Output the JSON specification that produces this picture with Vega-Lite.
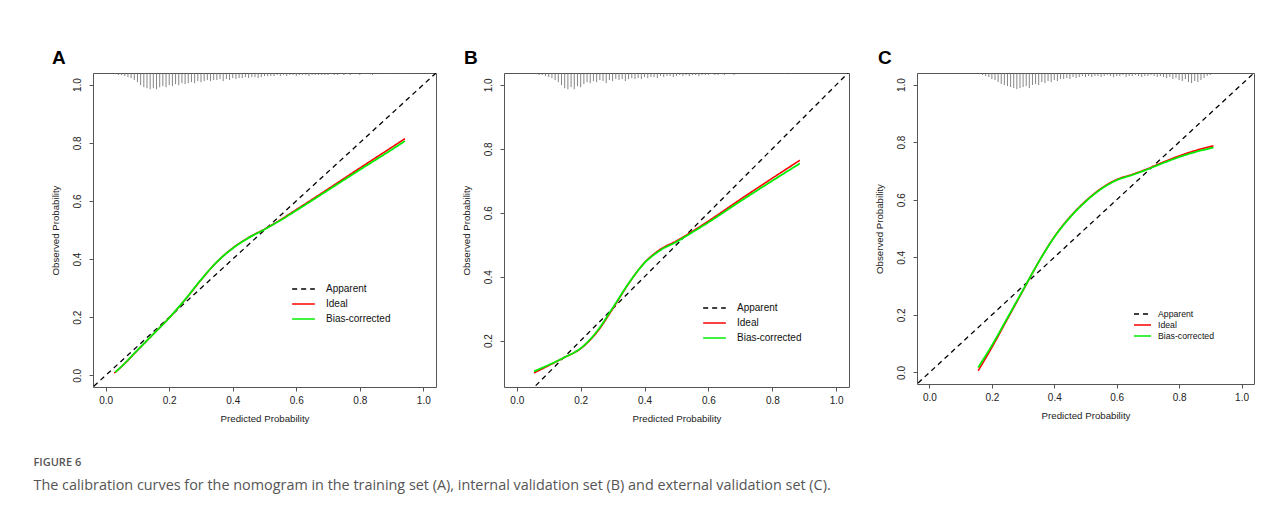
{
  "$schema": "https://vega.github.io/schema/vega-lite/v6.json",
  "background": "white",
  "padding": {"left": 33, "top": 48, "right": 20, "bottom": 10},
  "config": {
    "font": "Liberation Sans",
    "view": {"stroke": "#555", "strokeWidth": 1},
    "axis": {"grid": false, "domain": false, "tickColor": "#555", "tickSize": 4, "labelColor": "#222", "labelFontSize": 10, "titleFontSize": 9.7, "titleFontWeight": "normal", "titleColor": "#222", "labelFont": "Liberation Sans", "titleFont": "Liberation Sans"},
    "axisX": {"labelPadding": 4, "titlePadding": 8},
    "axisY": {"labelAngle": -90, "labelAlign": "center", "labelBaseline": "bottom", "labelPadding": 7, "titlePadding": 12}
  },
  "datasets": {
    "diag": [{"s": "Apparent", "x": -0.1, "y": -0.1}, {"s": "Apparent", "x": 1.1, "y": 1.1}],
    "cA": [
      {"s": "Ideal", "x": 0.027, "y": 0.008}, {"s": "Ideal", "x": 0.05, "y": 0.03}, {"s": "Ideal", "x": 0.1, "y": 0.086}, {"s": "Ideal", "x": 0.15, "y": 0.142}, {"s": "Ideal", "x": 0.2, "y": 0.198}, {"s": "Ideal", "x": 0.25, "y": 0.26}, {"s": "Ideal", "x": 0.3, "y": 0.328}, {"s": "Ideal", "x": 0.35, "y": 0.39}, {"s": "Ideal", "x": 0.4, "y": 0.438}, {"s": "Ideal", "x": 0.45, "y": 0.474}, {"s": "Ideal", "x": 0.5, "y": 0.503}, {"s": "Ideal", "x": 0.55, "y": 0.535}, {"s": "Ideal", "x": 0.6, "y": 0.57}, {"s": "Ideal", "x": 0.7, "y": 0.641}, {"s": "Ideal", "x": 0.8, "y": 0.713}, {"s": "Ideal", "x": 0.9, "y": 0.784}, {"s": "Ideal", "x": 0.942, "y": 0.814},
      {"s": "Bias-corrected", "x": 0.03, "y": 0.011}, {"s": "Bias-corrected", "x": 0.05, "y": 0.031}, {"s": "Bias-corrected", "x": 0.1, "y": 0.087}, {"s": "Bias-corrected", "x": 0.15, "y": 0.142}, {"s": "Bias-corrected", "x": 0.2, "y": 0.198}, {"s": "Bias-corrected", "x": 0.25, "y": 0.261}, {"s": "Bias-corrected", "x": 0.3, "y": 0.329}, {"s": "Bias-corrected", "x": 0.35, "y": 0.39}, {"s": "Bias-corrected", "x": 0.4, "y": 0.437}, {"s": "Bias-corrected", "x": 0.45, "y": 0.473}, {"s": "Bias-corrected", "x": 0.5, "y": 0.502}, {"s": "Bias-corrected", "x": 0.55, "y": 0.533}, {"s": "Bias-corrected", "x": 0.6, "y": 0.567}, {"s": "Bias-corrected", "x": 0.7, "y": 0.637}, {"s": "Bias-corrected", "x": 0.8, "y": 0.707}, {"s": "Bias-corrected", "x": 0.9, "y": 0.776}, {"s": "Bias-corrected", "x": 0.942, "y": 0.806}
    ],
    "cB": [
      {"s": "Ideal", "x": 0.054, "y": 0.099}, {"s": "Ideal", "x": 0.1, "y": 0.122}, {"s": "Ideal", "x": 0.15, "y": 0.148}, {"s": "Ideal", "x": 0.2, "y": 0.175}, {"s": "Ideal", "x": 0.25, "y": 0.225}, {"s": "Ideal", "x": 0.3, "y": 0.299}, {"s": "Ideal", "x": 0.35, "y": 0.378}, {"s": "Ideal", "x": 0.4, "y": 0.444}, {"s": "Ideal", "x": 0.45, "y": 0.486}, {"s": "Ideal", "x": 0.5, "y": 0.512}, {"s": "Ideal", "x": 0.55, "y": 0.542}, {"s": "Ideal", "x": 0.6, "y": 0.574}, {"s": "Ideal", "x": 0.7, "y": 0.642}, {"s": "Ideal", "x": 0.8, "y": 0.708}, {"s": "Ideal", "x": 0.886, "y": 0.764},
      {"s": "Bias-corrected", "x": 0.054, "y": 0.104}, {"s": "Bias-corrected", "x": 0.1, "y": 0.124}, {"s": "Bias-corrected", "x": 0.15, "y": 0.148}, {"s": "Bias-corrected", "x": 0.2, "y": 0.176}, {"s": "Bias-corrected", "x": 0.25, "y": 0.228}, {"s": "Bias-corrected", "x": 0.3, "y": 0.302}, {"s": "Bias-corrected", "x": 0.35, "y": 0.379}, {"s": "Bias-corrected", "x": 0.4, "y": 0.443}, {"s": "Bias-corrected", "x": 0.45, "y": 0.483}, {"s": "Bias-corrected", "x": 0.5, "y": 0.509}, {"s": "Bias-corrected", "x": 0.55, "y": 0.539}, {"s": "Bias-corrected", "x": 0.6, "y": 0.57}, {"s": "Bias-corrected", "x": 0.7, "y": 0.636}, {"s": "Bias-corrected", "x": 0.8, "y": 0.7}, {"s": "Bias-corrected", "x": 0.886, "y": 0.754}
    ],
    "cC": [
      {"s": "Ideal", "x": 0.156, "y": 0.006}, {"s": "Ideal", "x": 0.2, "y": 0.087}, {"s": "Ideal", "x": 0.25, "y": 0.186}, {"s": "Ideal", "x": 0.3, "y": 0.285}, {"s": "Ideal", "x": 0.35, "y": 0.384}, {"s": "Ideal", "x": 0.4, "y": 0.471}, {"s": "Ideal", "x": 0.45, "y": 0.54}, {"s": "Ideal", "x": 0.5, "y": 0.595}, {"s": "Ideal", "x": 0.55, "y": 0.639}, {"s": "Ideal", "x": 0.6, "y": 0.67}, {"s": "Ideal", "x": 0.65, "y": 0.688}, {"s": "Ideal", "x": 0.7, "y": 0.708}, {"s": "Ideal", "x": 0.75, "y": 0.731}, {"s": "Ideal", "x": 0.8, "y": 0.752}, {"s": "Ideal", "x": 0.85, "y": 0.77}, {"s": "Ideal", "x": 0.91, "y": 0.787},
      {"s": "Bias-corrected", "x": 0.156, "y": 0.017}, {"s": "Bias-corrected", "x": 0.2, "y": 0.094}, {"s": "Bias-corrected", "x": 0.25, "y": 0.19}, {"s": "Bias-corrected", "x": 0.3, "y": 0.287}, {"s": "Bias-corrected", "x": 0.35, "y": 0.384}, {"s": "Bias-corrected", "x": 0.4, "y": 0.47}, {"s": "Bias-corrected", "x": 0.45, "y": 0.538}, {"s": "Bias-corrected", "x": 0.5, "y": 0.593}, {"s": "Bias-corrected", "x": 0.55, "y": 0.637}, {"s": "Bias-corrected", "x": 0.6, "y": 0.668}, {"s": "Bias-corrected", "x": 0.65, "y": 0.686}, {"s": "Bias-corrected", "x": 0.7, "y": 0.706}, {"s": "Bias-corrected", "x": 0.75, "y": 0.728}, {"s": "Bias-corrected", "x": 0.8, "y": 0.748}, {"s": "Bias-corrected", "x": 0.85, "y": 0.765}, {"s": "Bias-corrected", "x": 0.91, "y": 0.781}
    ],
    "rugA": [
      {"p": 0.03, "d": 1}, {"p": 0.04, "d": 2}, {"p": 0.05, "d": 2}, {"p": 0.06, "d": 3}, {"p": 0.07, "d": 4}, {"p": 0.08, "d": 5}, {"p": 0.09, "d": 7}, {"p": 0.1, "d": 9}, {"p": 0.11, "d": 12}, {"p": 0.12, "d": 14}, {"p": 0.13, "d": 15}, {"p": 0.14, "d": 16}, {"p": 0.15, "d": 15}, {"p": 0.16, "d": 16}, {"p": 0.17, "d": 14}, {"p": 0.18, "d": 13}, {"p": 0.19, "d": 14}, {"p": 0.2, "d": 12}, {"p": 0.21, "d": 13}, {"p": 0.22, "d": 11}, {"p": 0.23, "d": 12}, {"p": 0.24, "d": 10}, {"p": 0.25, "d": 11}, {"p": 0.26, "d": 10}, {"p": 0.27, "d": 9}, {"p": 0.28, "d": 10}, {"p": 0.29, "d": 8}, {"p": 0.3, "d": 9}, {"p": 0.31, "d": 8}, {"p": 0.32, "d": 7}, {"p": 0.33, "d": 8}, {"p": 0.34, "d": 7}, {"p": 0.35, "d": 7}, {"p": 0.36, "d": 6}, {"p": 0.37, "d": 8}, {"p": 0.38, "d": 6}, {"p": 0.39, "d": 7}, {"p": 0.4, "d": 5}, {"p": 0.41, "d": 6}, {"p": 0.42, "d": 5}, {"p": 0.43, "d": 5}, {"p": 0.44, "d": 4}, {"p": 0.45, "d": 5}, {"p": 0.46, "d": 4}, {"p": 0.47, "d": 4}, {"p": 0.48, "d": 5}, {"p": 0.49, "d": 4}, {"p": 0.5, "d": 3}, {"p": 0.51, "d": 3}, {"p": 0.52, "d": 3}, {"p": 0.53, "d": 3}, {"p": 0.54, "d": 2}, {"p": 0.55, "d": 3}, {"p": 0.56, "d": 2}, {"p": 0.57, "d": 3}, {"p": 0.58, "d": 2}, {"p": 0.59, "d": 2}, {"p": 0.6, "d": 3}, {"p": 0.61, "d": 2}, {"p": 0.62, "d": 2}, {"p": 0.63, "d": 2}, {"p": 0.64, "d": 3}, {"p": 0.65, "d": 2}, {"p": 0.66, "d": 2}, {"p": 0.67, "d": 2}, {"p": 0.68, "d": 2}, {"p": 0.69, "d": 2}, {"p": 0.7, "d": 2}, {"p": 0.71, "d": 1}, {"p": 0.72, "d": 2}, {"p": 0.73, "d": 2}, {"p": 0.74, "d": 1}, {"p": 0.75, "d": 2}, {"p": 0.76, "d": 1}, {"p": 0.77, "d": 2}, {"p": 0.78, "d": 1}, {"p": 0.79, "d": 1}, {"p": 0.8, "d": 2}, {"p": 0.81, "d": 1}, {"p": 0.82, "d": 1}, {"p": 0.83, "d": 1}, {"p": 0.84, "d": 2}, {"p": 0.85, "d": 1}, {"p": 0.86, "d": 1}, {"p": 0.87, "d": 1}, {"p": 0.88, "d": 1}, {"p": 0.89, "d": 1}, {"p": 0.9, "d": 1}, {"p": 0.91, "d": 1}, {"p": 0.92, "d": 1}, {"p": 0.93, "d": 1}, {"p": 0.94, "d": 1}, {"p": 0.95, "d": 1}, {"p": 0.96, "d": 1}, {"p": 0.97, "d": 1}
    ],
    "rugB": [
      {"p": 0.05, "d": 1}, {"p": 0.06, "d": 1}, {"p": 0.07, "d": 2}, {"p": 0.08, "d": 2}, {"p": 0.09, "d": 3}, {"p": 0.1, "d": 4}, {"p": 0.11, "d": 5}, {"p": 0.12, "d": 7}, {"p": 0.13, "d": 9}, {"p": 0.14, "d": 12}, {"p": 0.15, "d": 15}, {"p": 0.16, "d": 16}, {"p": 0.17, "d": 14}, {"p": 0.18, "d": 16}, {"p": 0.19, "d": 13}, {"p": 0.2, "d": 14}, {"p": 0.21, "d": 11}, {"p": 0.22, "d": 9}, {"p": 0.23, "d": 10}, {"p": 0.24, "d": 8}, {"p": 0.25, "d": 9}, {"p": 0.26, "d": 7}, {"p": 0.27, "d": 8}, {"p": 0.28, "d": 10}, {"p": 0.29, "d": 7}, {"p": 0.3, "d": 8}, {"p": 0.31, "d": 6}, {"p": 0.32, "d": 7}, {"p": 0.33, "d": 6}, {"p": 0.34, "d": 8}, {"p": 0.35, "d": 6}, {"p": 0.36, "d": 5}, {"p": 0.37, "d": 6}, {"p": 0.38, "d": 5}, {"p": 0.39, "d": 6}, {"p": 0.4, "d": 4}, {"p": 0.41, "d": 5}, {"p": 0.42, "d": 4}, {"p": 0.43, "d": 4}, {"p": 0.44, "d": 5}, {"p": 0.45, "d": 3}, {"p": 0.46, "d": 4}, {"p": 0.47, "d": 3}, {"p": 0.48, "d": 3}, {"p": 0.49, "d": 4}, {"p": 0.5, "d": 3}, {"p": 0.51, "d": 2}, {"p": 0.52, "d": 3}, {"p": 0.53, "d": 2}, {"p": 0.54, "d": 3}, {"p": 0.55, "d": 2}, {"p": 0.56, "d": 2}, {"p": 0.57, "d": 3}, {"p": 0.58, "d": 2}, {"p": 0.59, "d": 2}, {"p": 0.6, "d": 2}, {"p": 0.61, "d": 1}, {"p": 0.62, "d": 2}, {"p": 0.63, "d": 2}, {"p": 0.64, "d": 1}, {"p": 0.65, "d": 2}, {"p": 0.66, "d": 1}, {"p": 0.67, "d": 1}, {"p": 0.68, "d": 2}, {"p": 0.69, "d": 1}, {"p": 0.7, "d": 1}, {"p": 0.72, "d": 1}, {"p": 0.73, "d": 1}, {"p": 0.75, "d": 1}, {"p": 0.76, "d": 1}, {"p": 0.78, "d": 1}, {"p": 0.8, "d": 1}, {"p": 0.82, "d": 1}, {"p": 0.84, "d": 1}, {"p": 0.86, "d": 1}, {"p": 0.88, "d": 1}, {"p": 0.91, "d": 1}
    ],
    "rugC": [
      {"p": 0.16, "d": 1}, {"p": 0.17, "d": 2}, {"p": 0.18, "d": 3}, {"p": 0.19, "d": 4}, {"p": 0.2, "d": 6}, {"p": 0.21, "d": 7}, {"p": 0.22, "d": 9}, {"p": 0.23, "d": 11}, {"p": 0.24, "d": 12}, {"p": 0.25, "d": 13}, {"p": 0.26, "d": 14}, {"p": 0.27, "d": 15}, {"p": 0.28, "d": 16}, {"p": 0.29, "d": 15}, {"p": 0.3, "d": 14}, {"p": 0.31, "d": 13}, {"p": 0.32, "d": 15}, {"p": 0.33, "d": 12}, {"p": 0.34, "d": 11}, {"p": 0.35, "d": 12}, {"p": 0.36, "d": 9}, {"p": 0.37, "d": 10}, {"p": 0.38, "d": 8}, {"p": 0.39, "d": 9}, {"p": 0.4, "d": 7}, {"p": 0.41, "d": 8}, {"p": 0.42, "d": 6}, {"p": 0.43, "d": 6}, {"p": 0.44, "d": 5}, {"p": 0.45, "d": 6}, {"p": 0.46, "d": 4}, {"p": 0.47, "d": 5}, {"p": 0.48, "d": 4}, {"p": 0.49, "d": 3}, {"p": 0.5, "d": 4}, {"p": 0.51, "d": 3}, {"p": 0.52, "d": 4}, {"p": 0.53, "d": 3}, {"p": 0.54, "d": 3}, {"p": 0.55, "d": 4}, {"p": 0.56, "d": 3}, {"p": 0.57, "d": 2}, {"p": 0.58, "d": 3}, {"p": 0.59, "d": 4}, {"p": 0.6, "d": 3}, {"p": 0.61, "d": 3}, {"p": 0.62, "d": 2}, {"p": 0.63, "d": 4}, {"p": 0.64, "d": 3}, {"p": 0.65, "d": 3}, {"p": 0.66, "d": 2}, {"p": 0.67, "d": 3}, {"p": 0.68, "d": 4}, {"p": 0.69, "d": 3}, {"p": 0.7, "d": 3}, {"p": 0.71, "d": 2}, {"p": 0.72, "d": 3}, {"p": 0.73, "d": 4}, {"p": 0.74, "d": 3}, {"p": 0.75, "d": 4}, {"p": 0.76, "d": 5}, {"p": 0.77, "d": 4}, {"p": 0.78, "d": 6}, {"p": 0.79, "d": 5}, {"p": 0.8, "d": 7}, {"p": 0.81, "d": 8}, {"p": 0.82, "d": 6}, {"p": 0.83, "d": 9}, {"p": 0.84, "d": 10}, {"p": 0.85, "d": 8}, {"p": 0.86, "d": 9}, {"p": 0.87, "d": 7}, {"p": 0.88, "d": 5}, {"p": 0.89, "d": 3}, {"p": 0.9, "d": 2}, {"p": 0.91, "d": 1}, {"p": 0.92, "d": 1}
    ]
  },
  "title": {
    "text": "FIGURE 6",
    "subtitle": "The calibration curves for the nomogram in the training set (A), internal validation set (B) and external validation set (C).",
    "orient": "bottom", "anchor": "start", "frame": "bounds", "dx": -16, "offset": 34,
    "font": "Open Sans", "fontSize": 11, "fontWeight": 600, "color": "#555",
    "subtitleFont": "Open Sans", "subtitleFontSize": 14.4, "subtitleColor": "#555", "subtitlePadding": 11
  },
  "bounds": "flush",
  "spacing": 68,
  "resolve": {"scale": {"color": "independent", "strokeDash": "independent"}, "legend": {"color": "independent", "strokeDash": "independent"}},
  "hconcat": [
    {
      "width": 343, "height": 314,
      "title": {"text": "A", "anchor": "start", "frame": "group", "dx": -41, "fontSize": 19, "fontWeight": "bold", "color": "#000", "font": "Liberation Sans", "offset": 5},
      "resolve": {"scale": {"y": "independent"}},
      "layer": [
        {
          "data": {"name": "rugA"},
          "mark": {"type": "rule", "color": "#666", "strokeWidth": 0.8},
          "encoding": {
            "x": {"field": "p", "type": "quantitative", "scale": {"domain": [-0.04, 1.04], "nice": false, "zero": false}, "axis": {"values": [0, 0.2, 0.4, 0.6, 0.8, 1], "format": ".1f", "title": "Predicted Probability"}},
            "y": {"field": "d", "type": "quantitative", "scale": {"domain": [0, 310], "reverse": true, "nice": false, "zero": false}, "axis": null},
            "y2": {"datum": 0}
          }
        },
        {
          "encoding": {
            "x": {"field": "x", "type": "quantitative", "scale": {"domain": [-0.04, 1.04], "nice": false, "zero": false}, "axis": {"values": [0, 0.2, 0.4, 0.6, 0.8, 1], "format": ".1f", "title": "Predicted Probability"}},
            "y": {"field": "y", "type": "quantitative", "scale": {"domain": [-0.04, 1.04], "nice": false, "zero": false}, "axis": {"orient": "left", "values": [0, 0.2, 0.4, 0.6, 0.8, 1], "format": ".1f", "title": "Observed Probability"}},
            "color": {"field": "s", "type": "nominal", "scale": {"domain": ["Apparent", "Ideal", "Bias-corrected"], "range": ["#000000", "#ff0000", "#00ee00"]}, "legend": {"orient": "none", "legendX": 198, "legendY": 211, "title": null, "symbolType": "stroke", "symbolSize": 515, "symbolStrokeWidth": 1.5, "clipHeight": 10, "rowPadding": 5, "labelFontSize": 10, "labelOffset": 10, "labelColor": "#111", "labelFont": "Liberation Sans", "padding": 0}},
            "strokeDash": {"field": "s", "type": "nominal", "scale": {"domain": ["Apparent", "Ideal", "Bias-corrected"], "range": [[5, 4], [1, 0], [1, 0]]}, "legend": {"orient": "none", "legendX": 198, "legendY": 211, "title": null, "symbolType": "stroke", "symbolSize": 515, "symbolStrokeWidth": 1.5, "clipHeight": 10, "rowPadding": 5, "labelFontSize": 10, "labelOffset": 10, "labelColor": "#111", "labelFont": "Liberation Sans", "padding": 0}}
          },
          "layer": [
            {"data": {"name": "diag"}, "mark": {"type": "line", "clip": true, "strokeWidth": 1.3}},
            {"data": {"name": "cA"}, "transform": [{"filter": "datum.s == 'Ideal'"}], "mark": {"type": "line", "clip": true, "strokeWidth": 1.6, "interpolate": "monotone"}},
            {"data": {"name": "cA"}, "transform": [{"filter": "datum.s == 'Bias-corrected'"}], "mark": {"type": "line", "clip": true, "strokeWidth": 1.8, "interpolate": "monotone"}}
          ]
        }
      ]
    },
    {
      "width": 345, "height": 314,
      "title": {"text": "B", "anchor": "start", "frame": "group", "dx": -40, "fontSize": 19, "fontWeight": "bold", "color": "#000", "font": "Liberation Sans", "offset": 5},
      "resolve": {"scale": {"y": "independent"}},
      "layer": [
        {
          "data": {"name": "rugB"},
          "mark": {"type": "rule", "color": "#666", "strokeWidth": 0.8},
          "encoding": {
            "x": {"field": "p", "type": "quantitative", "scale": {"domain": [-0.04, 1.04], "nice": false, "zero": false}, "axis": {"values": [0, 0.2, 0.4, 0.6, 0.8, 1], "format": ".1f", "title": "Predicted Probability"}},
            "y": {"field": "d", "type": "quantitative", "scale": {"domain": [0, 310], "reverse": true, "nice": false, "zero": false}, "axis": null},
            "y2": {"datum": 0}
          }
        },
        {
          "encoding": {
            "x": {"field": "x", "type": "quantitative", "scale": {"domain": [-0.04, 1.04], "nice": false, "zero": false}, "axis": {"values": [0, 0.2, 0.4, 0.6, 0.8, 1], "format": ".1f", "title": "Predicted Probability"}},
            "y": {"field": "y", "type": "quantitative", "scale": {"domain": [0.055, 1.037], "nice": false, "zero": false}, "axis": {"orient": "left", "values": [0.2, 0.4, 0.6, 0.8, 1], "format": ".1f", "title": "Observed Probability"}},
            "color": {"field": "s", "type": "nominal", "scale": {"domain": ["Apparent", "Ideal", "Bias-corrected"], "range": ["#000000", "#ff0000", "#00ee00"]}, "legend": {"orient": "none", "legendX": 198, "legendY": 230, "title": null, "symbolType": "stroke", "symbolSize": 515, "symbolStrokeWidth": 1.5, "clipHeight": 10, "rowPadding": 5, "labelFontSize": 10, "labelOffset": 10, "labelColor": "#111", "labelFont": "Liberation Sans", "padding": 0}},
            "strokeDash": {"field": "s", "type": "nominal", "scale": {"domain": ["Apparent", "Ideal", "Bias-corrected"], "range": [[5, 4], [1, 0], [1, 0]]}, "legend": {"orient": "none", "legendX": 198, "legendY": 230, "title": null, "symbolType": "stroke", "symbolSize": 515, "symbolStrokeWidth": 1.5, "clipHeight": 10, "rowPadding": 5, "labelFontSize": 10, "labelOffset": 10, "labelColor": "#111", "labelFont": "Liberation Sans", "padding": 0}}
          },
          "layer": [
            {"data": {"name": "diag"}, "mark": {"type": "line", "clip": true, "strokeWidth": 1.3}},
            {"data": {"name": "cB"}, "transform": [{"filter": "datum.s == 'Ideal'"}], "mark": {"type": "line", "clip": true, "strokeWidth": 1.6, "interpolate": "monotone"}},
            {"data": {"name": "cB"}, "transform": [{"filter": "datum.s == 'Bias-corrected'"}], "mark": {"type": "line", "clip": true, "strokeWidth": 1.8, "interpolate": "monotone"}}
          ]
        }
      ]
    },
    {
      "width": 337, "height": 311,
      "title": {"text": "C", "anchor": "start", "frame": "group", "dx": -39, "fontSize": 19, "fontWeight": "bold", "color": "#000", "font": "Liberation Sans", "offset": 5},
      "resolve": {"scale": {"y": "independent"}},
      "layer": [
        {
          "data": {"name": "rugC"},
          "mark": {"type": "rule", "color": "#666", "strokeWidth": 0.8},
          "encoding": {
            "x": {"field": "p", "type": "quantitative", "scale": {"domain": [-0.04, 1.04], "nice": false, "zero": false}, "axis": {"values": [0, 0.2, 0.4, 0.6, 0.8, 1], "format": ".1f", "title": "Predicted Probability"}},
            "y": {"field": "d", "type": "quantitative", "scale": {"domain": [0, 310], "reverse": true, "nice": false, "zero": false}, "axis": null},
            "y2": {"datum": 0}
          }
        },
        {
          "encoding": {
            "x": {"field": "x", "type": "quantitative", "scale": {"domain": [-0.04, 1.04], "nice": false, "zero": false}, "axis": {"values": [0, 0.2, 0.4, 0.6, 0.8, 1], "format": ".1f", "title": "Predicted Probability"}},
            "y": {"field": "y", "type": "quantitative", "scale": {"domain": [-0.04, 1.04], "nice": false, "zero": false}, "axis": {"orient": "left", "values": [0, 0.2, 0.4, 0.6, 0.8, 1], "format": ".1f", "title": "Observed Probability"}},
            "color": {"field": "s", "type": "nominal", "scale": {"domain": ["Apparent", "Ideal", "Bias-corrected"], "range": ["#000000", "#ff0000", "#00ee00"]}, "legend": {"orient": "none", "legendX": 216, "legendY": 237, "title": null, "symbolType": "stroke", "symbolSize": 289, "symbolStrokeWidth": 1.5, "clipHeight": 8, "rowPadding": 2, "labelFontSize": 8.7, "labelOffset": 6, "labelColor": "#111", "labelFont": "Liberation Sans", "padding": 0}},
            "strokeDash": {"field": "s", "type": "nominal", "scale": {"domain": ["Apparent", "Ideal", "Bias-corrected"], "range": [[5, 4], [1, 0], [1, 0]]}, "legend": {"orient": "none", "legendX": 216, "legendY": 237, "title": null, "symbolType": "stroke", "symbolSize": 289, "symbolStrokeWidth": 1.5, "clipHeight": 8, "rowPadding": 2, "labelFontSize": 8.7, "labelOffset": 6, "labelColor": "#111", "labelFont": "Liberation Sans", "padding": 0}}
          },
          "layer": [
            {"data": {"name": "diag"}, "mark": {"type": "line", "clip": true, "strokeWidth": 1.3}},
            {"data": {"name": "cC"}, "transform": [{"filter": "datum.s == 'Ideal'"}], "mark": {"type": "line", "clip": true, "strokeWidth": 1.6, "interpolate": "monotone"}},
            {"data": {"name": "cC"}, "transform": [{"filter": "datum.s == 'Bias-corrected'"}], "mark": {"type": "line", "clip": true, "strokeWidth": 1.8, "interpolate": "monotone"}}
          ]
        }
      ]
    }
  ]
}
